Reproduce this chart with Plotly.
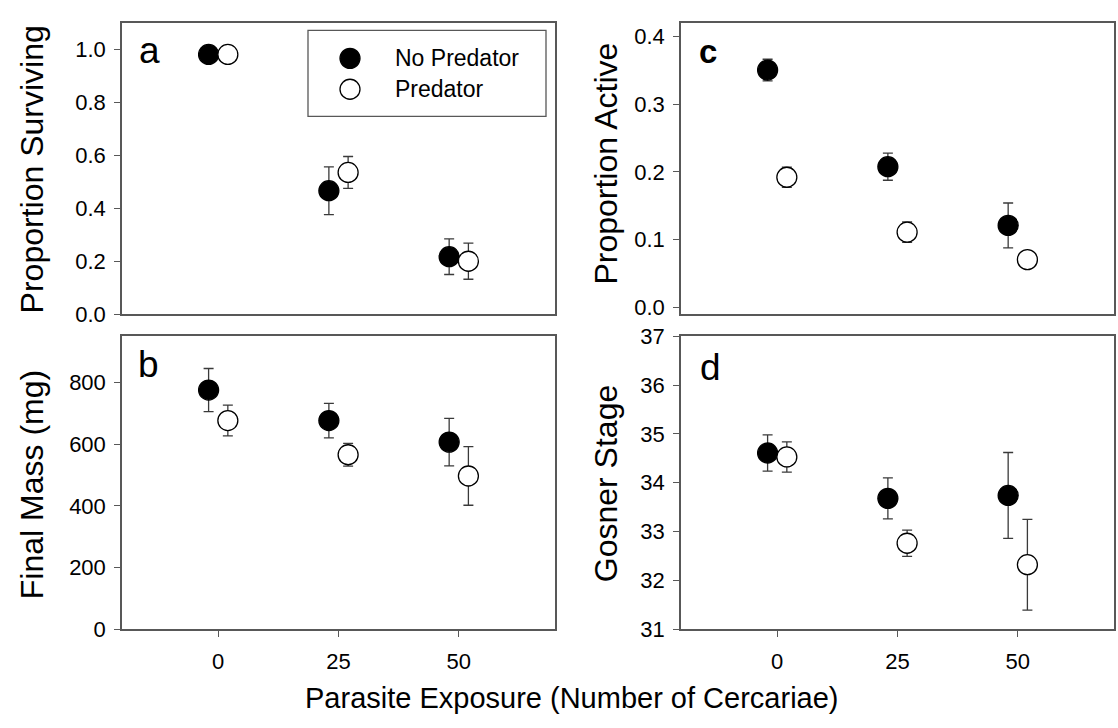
import plotly.graph_objects as go

# Parasite exposure levels (number of cercariae)
exposure = [0, 25, 50]

# Panel a: proportion surviving
surv_np = [0.98, 0.466, 0.217]
surv_np_se = [0.0, 0.09, 0.067]
surv_p = [0.98, 0.535, 0.200]
surv_p_se = [0.0, 0.06, 0.068]

# Panel b: final mass (mg)
mass_np = [776, 677, 607]
mass_np_se = [70, 56, 77]
mass_p = [677, 566, 497]
mass_p_se = [50, 37, 95]

# Panel c: proportion active
act_np = [0.350, 0.2076, 0.121]
act_np_se = [0.016, 0.020, 0.033]
act_p = [0.192, 0.111, 0.0705]
act_p_se = [0.015, 0.015, 0.010]

# Panel d: Gosner stage
stage_np = [34.61, 33.68, 33.74]
stage_np_se = [0.37, 0.42, 0.88]
stage_p = [34.53, 32.76, 32.32]
stage_p_se = [0.31, 0.27, 0.93]

group_names = ["No Predator", "Predator"]

W, H = 1118, 728
FONT = "Arial, Liberation Sans, sans-serif"
FRAME = "#585858"
ERR = "#3a3a3a"
DODGE = 2  # horizontal offset of the two predator groups


def px_x(p):
    return p / W


def px_y(p):
    return 1 - p / H


fig = go.Figure()

panels = [
    ("x", "y", surv_np, surv_np_se, surv_p, surv_p_se),
    ("x2", "y2", mass_np, mass_np_se, mass_p, mass_p_se),
    ("x3", "y3", act_np, act_np_se, act_p, act_p_se),
    ("x4", "y4", stage_np, stage_np_se, stage_p, stage_p_se),
]

for xa, ya, v_np, e_np, v_p, e_p in panels:
    for name, vals, errs, shift, fill in [
        (group_names[0], v_np, e_np, -DODGE, "black"),
        (group_names[1], v_p, e_p, DODGE, "white"),
    ]:
        fig.add_trace(go.Scatter(
            x=[e + shift for e in exposure], y=vals,
            xaxis=xa, yaxis=ya, mode="markers", name=name,
            showlegend=False,
            marker=dict(size=20, color=fill, line=dict(color="black", width=1.3)),
            error_y=dict(type="data", array=errs, visible=True,
                         color=ERR, thickness=1.3, width=5),
        ))

# panel placement in pixels: (left, right, top, bottom)
left_cols = (122, 555)
right_cols = (681, 1114)
top_rows = (11, 313)
bot_rows = (336, 639)

axis_common = dict(showline=True, mirror=True, linecolor=FRAME, linewidth=1.5,
                   showgrid=False, zeroline=False,
                   tickfont=dict(family=FONT, size=22, color="black"))

x_common = dict(axis_common, range=[-20, 70], tickvals=exposure,
                ticks="outside", ticklen=6, tickcolor=FRAME, tickwidth=1.3,
                ticklabelstandoff=6)


def xdom(c):
    return [px_x(c[0]), px_x(c[1])]


def ydom(r):
    return [px_y(r[1]), px_y(r[0])]


y_common = dict(axis_common, ticks="outside", ticklen=6, tickcolor=FRAME,
                tickwidth=1.3, ticklabelstandoff=4)

fig.update_layout(
    xaxis=dict(x_common, domain=xdom(left_cols), anchor="y", showticklabels=False, ticks=""),
    yaxis=dict(y_common, domain=ydom(top_rows), anchor="x", range=[0, 1.1],
               tickvals=[0, 0.2, 0.4, 0.6, 0.8, 1.0], tickformat=".1f"),
    xaxis2=dict(x_common, domain=xdom(left_cols), anchor="y2"),
    yaxis2=dict(y_common, domain=ydom(bot_rows), anchor="x2", range=[0, 950],
                tickvals=[0, 200, 400, 600, 800]),
    xaxis3=dict(x_common, domain=xdom(right_cols), anchor="y3", showticklabels=False, ticks=""),
    yaxis3=dict(y_common, domain=ydom(top_rows), anchor="x3", range=[-0.01, 0.42],
                tickvals=[0, 0.1, 0.2, 0.3, 0.4], tickformat=".1f"),
    xaxis4=dict(x_common, domain=xdom(right_cols), anchor="y4"),
    yaxis4=dict(y_common, domain=ydom(bot_rows), anchor="x4", range=[31, 37],
                tickvals=[31, 32, 33, 34, 35, 36, 37]),
)

annotations = []


def label(text, x, y, size, angle=0, bold=False):
    annotations.append(dict(
        text=f"<b>{text}</b>" if bold else text,
        x=px_x(x), y=px_y(y), xref="paper", yref="paper",
        xanchor="center", yanchor="middle", showarrow=False, textangle=angle,
        font=dict(family=FONT, size=size, color="black"),
    ))


# axis titles
label("Proportion Surviving", 32, 163, 32, angle=-90)
label("Final Mass (mg)", 32, 490, 32, angle=-90)
label("Proportion Active", 606, 157, 32, angle=-90)
label("Gosner Stage", 606, 489, 32, angle=-90)
label("Parasite Exposure (Number of Cercariae)", 571, 710, 29)

# panel letters
label("a", 149, 40, 37)
label("b", 148, 365, 37)
label("c", 708, 41, 33, bold=True)
label("d", 710, 368, 37)

# legend entries
legend_box = (308, 546, 19, 108)
rows = [(group_names[0], "black", 48), (group_names[1], "white", 80)]
shapes = [dict(type="rect", xref="paper", yref="paper",
               x0=px_x(legend_box[0]), x1=px_x(legend_box[1]),
               y0=px_y(legend_box[3]), y1=px_y(legend_box[2]),
               line=dict(color=FRAME, width=1.3), fillcolor="white", layer="above")]
for name, fill, ry in rows:
    shapes.append(dict(type="circle", xref="paper", yref="paper",
                       xsizemode="pixel", ysizemode="pixel",
                       xanchor=px_x(350), yanchor=px_y(ry),
                       x0=-10, x1=10, y0=-10, y1=10,
                       fillcolor=fill, line=dict(color="black", width=1.3), layer="above"))
    annotations.append(dict(
        text=name, x=px_x(393), y=px_y(ry), xref="paper", yref="paper",
        xanchor="left", yanchor="middle", showarrow=False,
        font=dict(family=FONT, size=23, color="black"),
    ))

fig.update_layout(
    width=W, height=H, margin=dict(l=0, r=0, t=0, b=0),
    paper_bgcolor="white", plot_bgcolor="white",
    font=dict(family=FONT, color="black"),
    annotations=annotations, shapes=shapes, showlegend=False,
)

fig.write_html("out.html")
